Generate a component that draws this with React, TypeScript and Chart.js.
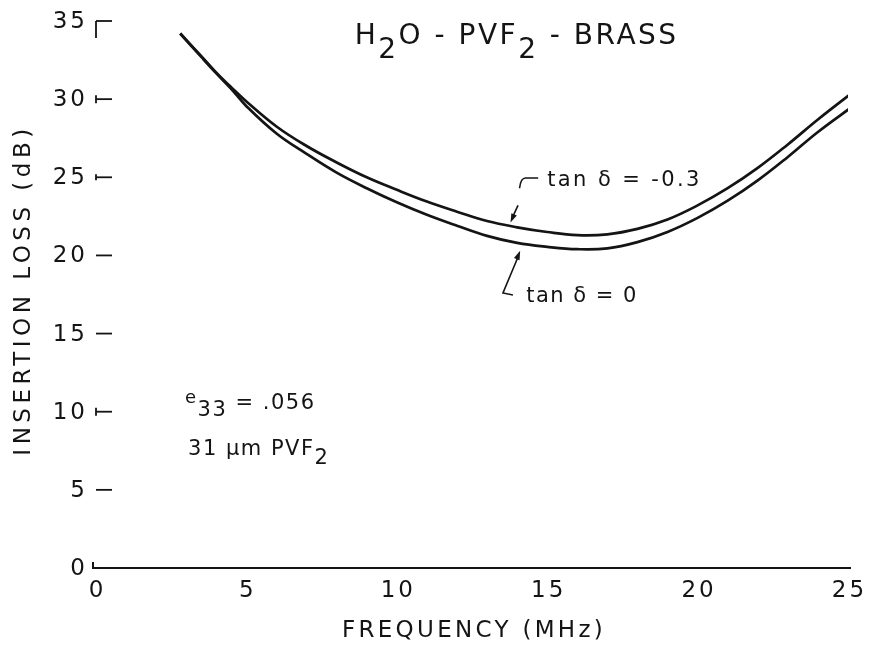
import React, { useEffect, useRef } from "react";
import { Chart, registerables } from "chart.js";

Chart.register(...registerables);

// Frequency (MHz) sample points
const freq = [2.8, 3.5, 4, 4.5, 5, 6, 7, 8, 9, 10, 11, 12, 13, 14, 15, 16, 17, 18, 19, 20, 21, 22, 23, 24, 25.2];
// Insertion loss (dB), tan δ = -0.3
const lossTanNeg03 = [34.2, 32.75, 31.7, 30.75, 29.85, 28.25, 27.0, 25.95, 25.0, 24.2, 23.45, 22.8, 22.2, 21.8, 21.5, 21.3, 21.35, 21.7, 22.3, 23.2, 24.3, 25.6, 27.1, 28.7, 30.5];
// Insertion loss (dB), tan δ = 0
const lossTan0 = [34.2, 32.7, 31.65, 30.65, 29.55, 27.8, 26.5, 25.3, 24.3, 23.4, 22.6, 21.9, 21.25, 20.8, 20.55, 20.4, 20.45, 20.85, 21.5, 22.4, 23.5, 24.8, 26.3, 27.9, 29.6];

const xTicks = [0, 5, 10, 15, 20, 25];
const yTicks = [0, 5, 10, 15, 20, 25, 30, 35];

const FONT = '"DejaVu Sans", sans-serif';
const INK = "#141414";

type Seg = { t: string; sub?: number; size?: number };

function drawRich(ctx: CanvasRenderingContext2D, segs: Seg[], x: number, y: number, size: number, spacing: number) {
  let cx = x;
  for (const s of segs) {
    ctx.font = `${s.size ?? size}px ${FONT}`;
    (ctx as any).letterSpacing = `${spacing}px`;
    ctx.fillText(s.t, cx, y + (s.sub ?? 0));
    cx += ctx.measureText(s.t).width;
  }
  (ctx as any).letterSpacing = "0px";
}

function arrowHead(ctx: CanvasRenderingContext2D, fx: number, fy: number, tx: number, ty: number, len: number, half: number) {
  const a = Math.atan2(ty - fy, tx - fx);
  ctx.beginPath();
  ctx.moveTo(tx, ty);
  ctx.lineTo(tx - len * Math.cos(a) + half * Math.sin(a), ty - len * Math.sin(a) - half * Math.cos(a));
  ctx.lineTo(tx - len * Math.cos(a) - half * Math.sin(a), ty - len * Math.sin(a) + half * Math.cos(a));
  ctx.closePath();
  ctx.fill();
}

const decorPlugin = {
  id: "decor",
  afterDraw(chart: any) {
    const ctx: CanvasRenderingContext2D = chart.ctx;
    const xs = chart.scales.x;
    const ys = chart.scales.y;
    const X = (v: number) => xs.getPixelForValue(v);
    const Y = (v: number) => ys.getPixelForValue(v);
    const x0 = X(0);
    const y0 = Y(0);
    ctx.save();
    ctx.strokeStyle = INK;
    ctx.fillStyle = INK;
    ctx.lineCap = "butt";

    // x axis line with small corner
    ctx.lineWidth = 2;
    ctx.beginPath();
    ctx.moveTo(x0 - 3, y0 - 6);
    ctx.lineTo(x0 - 3, y0);
    ctx.lineTo(X(25) + 3, y0);
    ctx.stroke();

    // inward y ticks
    ctx.lineWidth = 1.8;
    for (const v of yTicks) {
      if (v === 0) continue;
      const py = Y(v);
      ctx.beginPath();
      ctx.moveTo(x0, py);
      ctx.lineTo(x0 + 16, py);
      ctx.stroke();
    }
    ctx.beginPath();
    ctx.moveTo(x0, Y(35));
    ctx.lineTo(x0, Y(35) + 17);
    ctx.moveTo(x0, Y(30) - 4);
    ctx.lineTo(x0, Y(30) + 4);
    ctx.moveTo(x0, Y(25) - 3);
    ctx.lineTo(x0, Y(25) + 3);
    ctx.moveTo(x0, Y(10) - 4);
    ctx.lineTo(x0, Y(10) + 4);
    ctx.stroke();

    // tick labels
    ctx.font = `23px ${FONT}`;
    (ctx as any).letterSpacing = "3px";
    ctx.textBaseline = "middle";
    ctx.textAlign = "right";
    for (const v of yTicks) ctx.fillText(String(v), x0 - 8, Y(v) + 1);
    ctx.textAlign = "center";
    for (const v of xTicks) ctx.fillText(String(v), X(v) + 1.5, y0 + 23);

    // axis titles
    ctx.font = `23px ${FONT}`;
    (ctx as any).letterSpacing = "4.5px";
    ctx.save();
    ctx.translate(24, 292);
    ctx.rotate(-Math.PI / 2);
    ctx.fillText("INSERTION LOSS (dB)", 2, 0);
    ctx.restore();
    (ctx as any).letterSpacing = "3.3px";
    ctx.fillText("FREQUENCY (MHz)", (x0 + X(25)) / 2 + 2, y0 + 63);
    (ctx as any).letterSpacing = "0px";

    // title
    ctx.textAlign = "left";
    ctx.textBaseline = "alphabetic";
    drawRich(
      ctx,
      [{ t: "H" }, { t: "2", sub: 14 }, { t: "O - PVF" }, { t: "2", sub: 14 }, { t: " - BRASS" }],
      X(8.6),
      Y(33.5),
      28,
      2.5
    );

    // parameters
    drawRich(ctx, [{ t: "e", size: 18, sub: -6 }, { t: "33", sub: 7 }, { t: " = .056" }], X(2.96), Y(10.17), 21, 1.5);
    drawRich(ctx, [{ t: "31 μm PVF" }, { t: "2", sub: 9 }], X(3.06), Y(7.23), 21, 1.5);

    // curve labels
    ctx.textBaseline = "middle";
    drawRich(ctx, [{ t: "tan δ = -0.3" }], X(15.0), Y(24.8), 21, 2.4);
    drawRich(ctx, [{ t: "tan δ = 0" }], X(14.3), Y(17.4), 21, 1.5);

    // leaders
    ctx.lineWidth = 1.6;
    ctx.beginPath();
    ctx.moveTo(X(14.7), Y(24.95));
    ctx.lineTo(X(14.28), Y(24.95));
    ctx.quadraticCurveTo(X(14.12), Y(24.95), X(14.08), Y(24.3));
    ctx.stroke();
    ctx.beginPath();
    ctx.moveTo(X(14.03), Y(23.2));
    ctx.lineTo(X(13.85), Y(22.45));
    ctx.stroke();
    arrowHead(ctx, X(14.03), Y(23.2), X(13.78), Y(22.1), 9, 3);

    ctx.beginPath();
    ctx.moveTo(X(13.86), Y(17.47));
    ctx.lineTo(X(13.53), Y(17.6));
    ctx.lineTo(X(14.03), Y(19.9));
    ctx.stroke();
    arrowHead(ctx, X(13.53), Y(17.6), X(14.1), Y(20.3), 9, 3);

    ctx.restore();
  },
};

export default function App() {
  const ref = useRef<HTMLCanvasElement | null>(null);
  useEffect(() => {
    if (!ref.current) return;
    const upper = freq.map((f, i) => ({ x: f, y: lossTanNeg03[i] }));
    const lower = freq.map((f, i) => ({ x: f, y: lossTan0[i] }));
    const chart = new Chart(ref.current, {
      type: "line",
      data: {
        datasets: [
          { label: "tan δ = -0.3", data: upper, borderColor: INK, borderWidth: 2.7, pointRadius: 0, tension: 0.4, fill: false },
          { label: "tan δ = 0", data: lower, borderColor: INK, borderWidth: 2.7, pointRadius: 0, tension: 0.4, fill: false },
        ],
      },
      options: {
        animation: false,
        responsive: false,
        devicePixelRatio: 1,
        layout: { padding: { top: 21, right: 22, left: 0, bottom: 0 } },
        plugins: { legend: { display: false }, tooltip: { enabled: false } },
        scales: {
          x: {
            type: "linear",
            min: 0,
            max: 25,
            afterBuildTicks: (s: any) => { s.ticks = xTicks.map((v) => ({ value: v })); },
            afterFit: (s: any) => { s.height = 80; },
            ticks: { display: false },
            grid: { display: false, drawTicks: false },
            border: { display: false },
          },
          y: {
            type: "linear",
            min: 0,
            max: 35,
            afterBuildTicks: (s: any) => { s.ticks = yTicks.map((v) => ({ value: v })); },
            afterFit: (s: any) => { s.width = 96; },
            ticks: { display: false },
            grid: { display: false, drawTicks: false },
            border: { display: false },
          },
        },
      },
      plugins: [decorPlugin],
    } as any);
    return () => chart.destroy();
  }, []);
  return (
    <div style={{ position: "absolute", left: 0, top: 0, width: 870, height: 648, background: "#fff" }}>
      <canvas ref={ref} width={870} height={648} style={{ display: "block" }} />
    </div>
  );
}
